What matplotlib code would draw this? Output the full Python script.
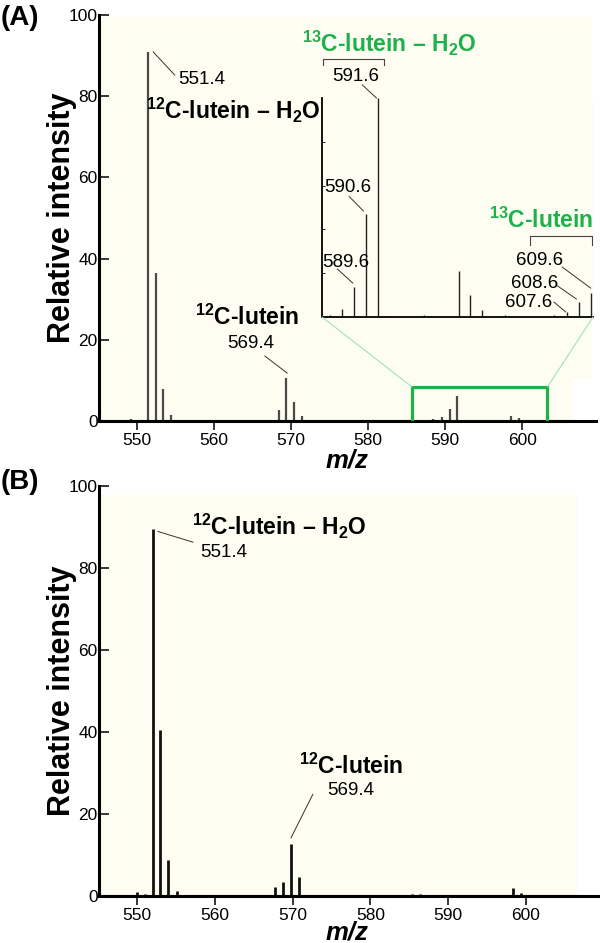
import matplotlib
matplotlib.use("Agg")
import matplotlib.pyplot as plt
from matplotlib.patches import Rectangle, ConnectionPatch

plt.rcParams['font.family'] = ['Liberation Sans', 'DejaVu Sans']
plt.rcParams['mathtext.fontset'] = 'custom'
plt.rcParams['mathtext.rm'] = 'Liberation Sans'
plt.rcParams['mathtext.bf'] = 'Liberation Sans:bold'

# panel A spectrum (m/z, relative intensity)
mz_a = [547.2, 549.2, 550.3, 551.4, 552.4, 553.4, 554.4, 568.4, 569.4, 570.4,
        571.4, 585.4, 588.4, 589.6, 590.6, 591.6, 598.6, 599.6]
int_a = [0.3, 0.6, 0.2, 90.9, 36.5, 7.9, 1.5, 2.7, 10.6, 4.7,
         1.2, 0.2, 0.4, 0.9, 2.9, 6.2, 1.3, 0.8]

# panel A inset, scaled to the 591.6 peak (%)
mz_in = [587.6, 588.6, 589.6, 590.6, 591.6, 592.6, 595.5, 598.5, 599.4, 600.4,
         602.4, 606.5, 607.6, 608.6, 609.6]
int_in = [1.0, 3.8, 13.7, 47.0, 100.0, 0.6, 1.0, 21.0, 10.0, 3.0,
          0.8, 0.8, 2.5, 7.0, 11.0]

# panel B spectrum
mz_b = [548.0, 550.0, 551.0, 552.1, 552.95, 554.0, 555.1, 567.8, 568.8, 569.8,
        570.8, 571.6, 584.6, 585.4, 586.4, 598.3, 599.3]
int_b = [0.3, 1.0, 0.6, 89.5, 40.5, 8.9, 1.2, 2.1, 3.4, 12.8,
         4.6, 0.3, 0.2, 0.6, 0.6, 2.0, 0.7]

xticks = [550, 560, 570, 580, 590, 600]
yticks = [0, 20, 40, 60, 80, 100]

cream = '#fdfdf1'
green = '#1db14b'

W, H = 600, 943
fig = plt.figure(figsize=(6, 9.43), dpi=100)


def fx(px):
    return px / W


def fy(py):
    return 1 - py / H


def style_axes(ax, xlim, top_cream, right_cream):
    ax.set_xlim(*xlim)
    ax.set_ylim(0, 100)
    ax.set_facecolor('none')
    ax.add_patch(Rectangle((xlim[0], 0), right_cream - xlim[0], top_cream,
                           facecolor=cream, edgecolor='none', zorder=0))
    for s in ['top', 'right']:
        ax.spines[s].set_visible(False)
    ax.spines['left'].set_linewidth(2.2)
    ax.spines['bottom'].set_linewidth(2.2)
    ax.set_xticks(xticks)
    ax.set_yticks(yticks)
    ax.tick_params(axis='y', direction='in', length=7, width=1.1, pad=1,
                   labelsize=12.5)
    ax.tick_params(axis='x', direction='out', length=6.5, width=1.1, pad=2,
                   labelsize=12.5)


num_kw = dict(fontsize=13.5, va='center', ha='left')
lead_kw = dict(color='#333333', lw=0.7)
lab_kw = dict(fontsize=16.5, fontweight='bold', va='center', ha='left')

# ---------------- panel A ----------------
axA = fig.add_axes([fx(99), fy(421), fx(596 - 99), (421 - 15) / H])
style_axes(axA, (545.06, 609.6), 99.5, 606.5)
axA.add_patch(Rectangle((606.5, 10), 2.6, 89.5, facecolor=cream,
                        edgecolor='none', zorder=0))
axA.vlines(mz_a, 0, int_a, color='#4a4a4a', lw=1.6, zorder=2)
axA.plot([545.06, 606.5], [0, 0], color='black', lw=2.2, zorder=3)

axA.text(555.3, 84, '551.4', **num_kw)
axA.plot([552.1, 554.9], [90.9, 85.2], **lead_kw)
axA.text(551.1, 76.6, r'$^{\mathbf{12}}$C-lutein – H$_{\mathbf{2}}$O', **lab_kw)
axA.text(557.5, 25.6, r'$^{\mathbf{12}}$C-lutein', **lab_kw)
axA.text(561.7, 19, '569.4', **num_kw)
axA.plot([566.6, 569.5], [16.0, 11.8], **lead_kw)

box = Rectangle((585.7, -0.3), 17.6, 8.7, facecolor='none', edgecolor=green,
                lw=2.3, zorder=4)
axA.add_patch(box)

# inset
axI = fig.add_axes([fx(322), fy(317), fx(593 - 322), (317 - 98) / H])
axI.set_xlim(586.9, 609.8)
axI.set_ylim(0, 100)
axI.set_facecolor(cream)
for s in ['top', 'right']:
    axI.spines[s].set_visible(False)
axI.spines['left'].set_linewidth(1.3)
axI.spines['bottom'].set_linewidth(1.3)
axI.set_xticks([])
axI.set_yticks([20, 40, 60, 80])
axI.tick_params(axis='y', direction='in', length=2, width=0.6, labelleft=False)
axI.vlines(mz_in, 0, int_in, color='#222222', lw=1.0)

axI.text(585.2, 125, r'$^{\mathbf{13}}$C-lutein – H$_{\mathbf{2}}$O', color=green,
         clip_on=False, **lab_kw)
axI.plot([587.0, 587.0, 592.1, 592.1], [115, 118, 118, 115], color='#444444',
         lw=0.8, clip_on=False)
axI.text(587.8, 110, '591.6', clip_on=False, **num_kw)
axI.plot([590.3, 591.5], [106, 100], clip_on=False, **lead_kw)
axI.text(587.1, 59, '590.6', **num_kw)
axI.plot([589.2, 590.4], [55, 48.4], **lead_kw)
axI.text(586.9, 25, '589.6', **num_kw)
axI.plot([588.2, 589.5], [21.9, 15.5], **lead_kw)
axI.text(601.0, 44, r'$^{\mathbf{13}}$C-lutein', color=green, **lab_kw)
axI.plot([604.5, 604.5, 609.7, 609.7], [33, 37, 37, 33], color='#444444',
         lw=0.8, clip_on=False)
axI.text(603.3, 25.6, '609.6', **num_kw)
axI.plot([607.2, 609.6], [22.8, 13.2], **lead_kw)
axI.text(602.9, 15.5, '608.6', **num_kw)
axI.plot([606.8, 608.4], [14.2, 8.2], **lead_kw)
axI.text(602.4, 6.8, '607.6', **num_kw)
axI.plot([606.5, 607.5], [6.8, 2.3], **lead_kw)

for xa, xb in [((585.7, 8.4), (0, 0)), ((603.3, 8.4), (1, 0))]:
    con = ConnectionPatch(xyA=xa, coordsA=axA.transData, xyB=xb,
                          coordsB=axI.transAxes, color='#9fe3bf', lw=0.8)
    fig.add_artist(con)

# ---------------- panel B ----------------
axB = fig.add_axes([fx(99), fy(896), fx(598 - 99), (896 - 486) / H])
style_axes(axB, (545.12, 609.25), 97.8, 606.6)
axB.vlines(mz_b, 0, int_b, color='#111111', lw=2.0, zorder=2)
axB.plot([545.12, 606.6], [0, 0], color='black', lw=2.2, zorder=3)

axB.text(557.1, 90.1, r'$^{\mathbf{12}}$C-lutein – H$_{\mathbf{2}}$O', **lab_kw)
axB.text(558.1, 83.9, '551.4', **num_kw)
axB.plot([552.7, 557.2], [88.9, 86.3], **lead_kw)
axB.text(570.8, 31.6, r'$^{\mathbf{12}}$C-lutein', **lab_kw)
axB.text(574.4, 25.8, '569.4', **num_kw)
axB.plot([572.6, 569.8], [24.8, 14.2], **lead_kw)

# panel letters and axis titles
fig.text(fx(1), fy(18), '(A)', fontsize=20, fontweight='bold', va='center')
fig.text(fx(1), fy(482), '(B)', fontsize=20, fontweight='bold', va='center')
for yc in [218, 691]:
    fig.text(fx(62), fy(yc), 'Relative intensity', rotation=90, fontsize=22,
             fontweight='bold', ha='center', va='center')
for yc in [460, 932]:
    fig.text(fx(347), fy(yc), 'm/z', fontsize=18.5, fontweight='bold',
             style='italic', ha='center', va='center')

fig.savefig('out.png', dpi=100, facecolor='white')
